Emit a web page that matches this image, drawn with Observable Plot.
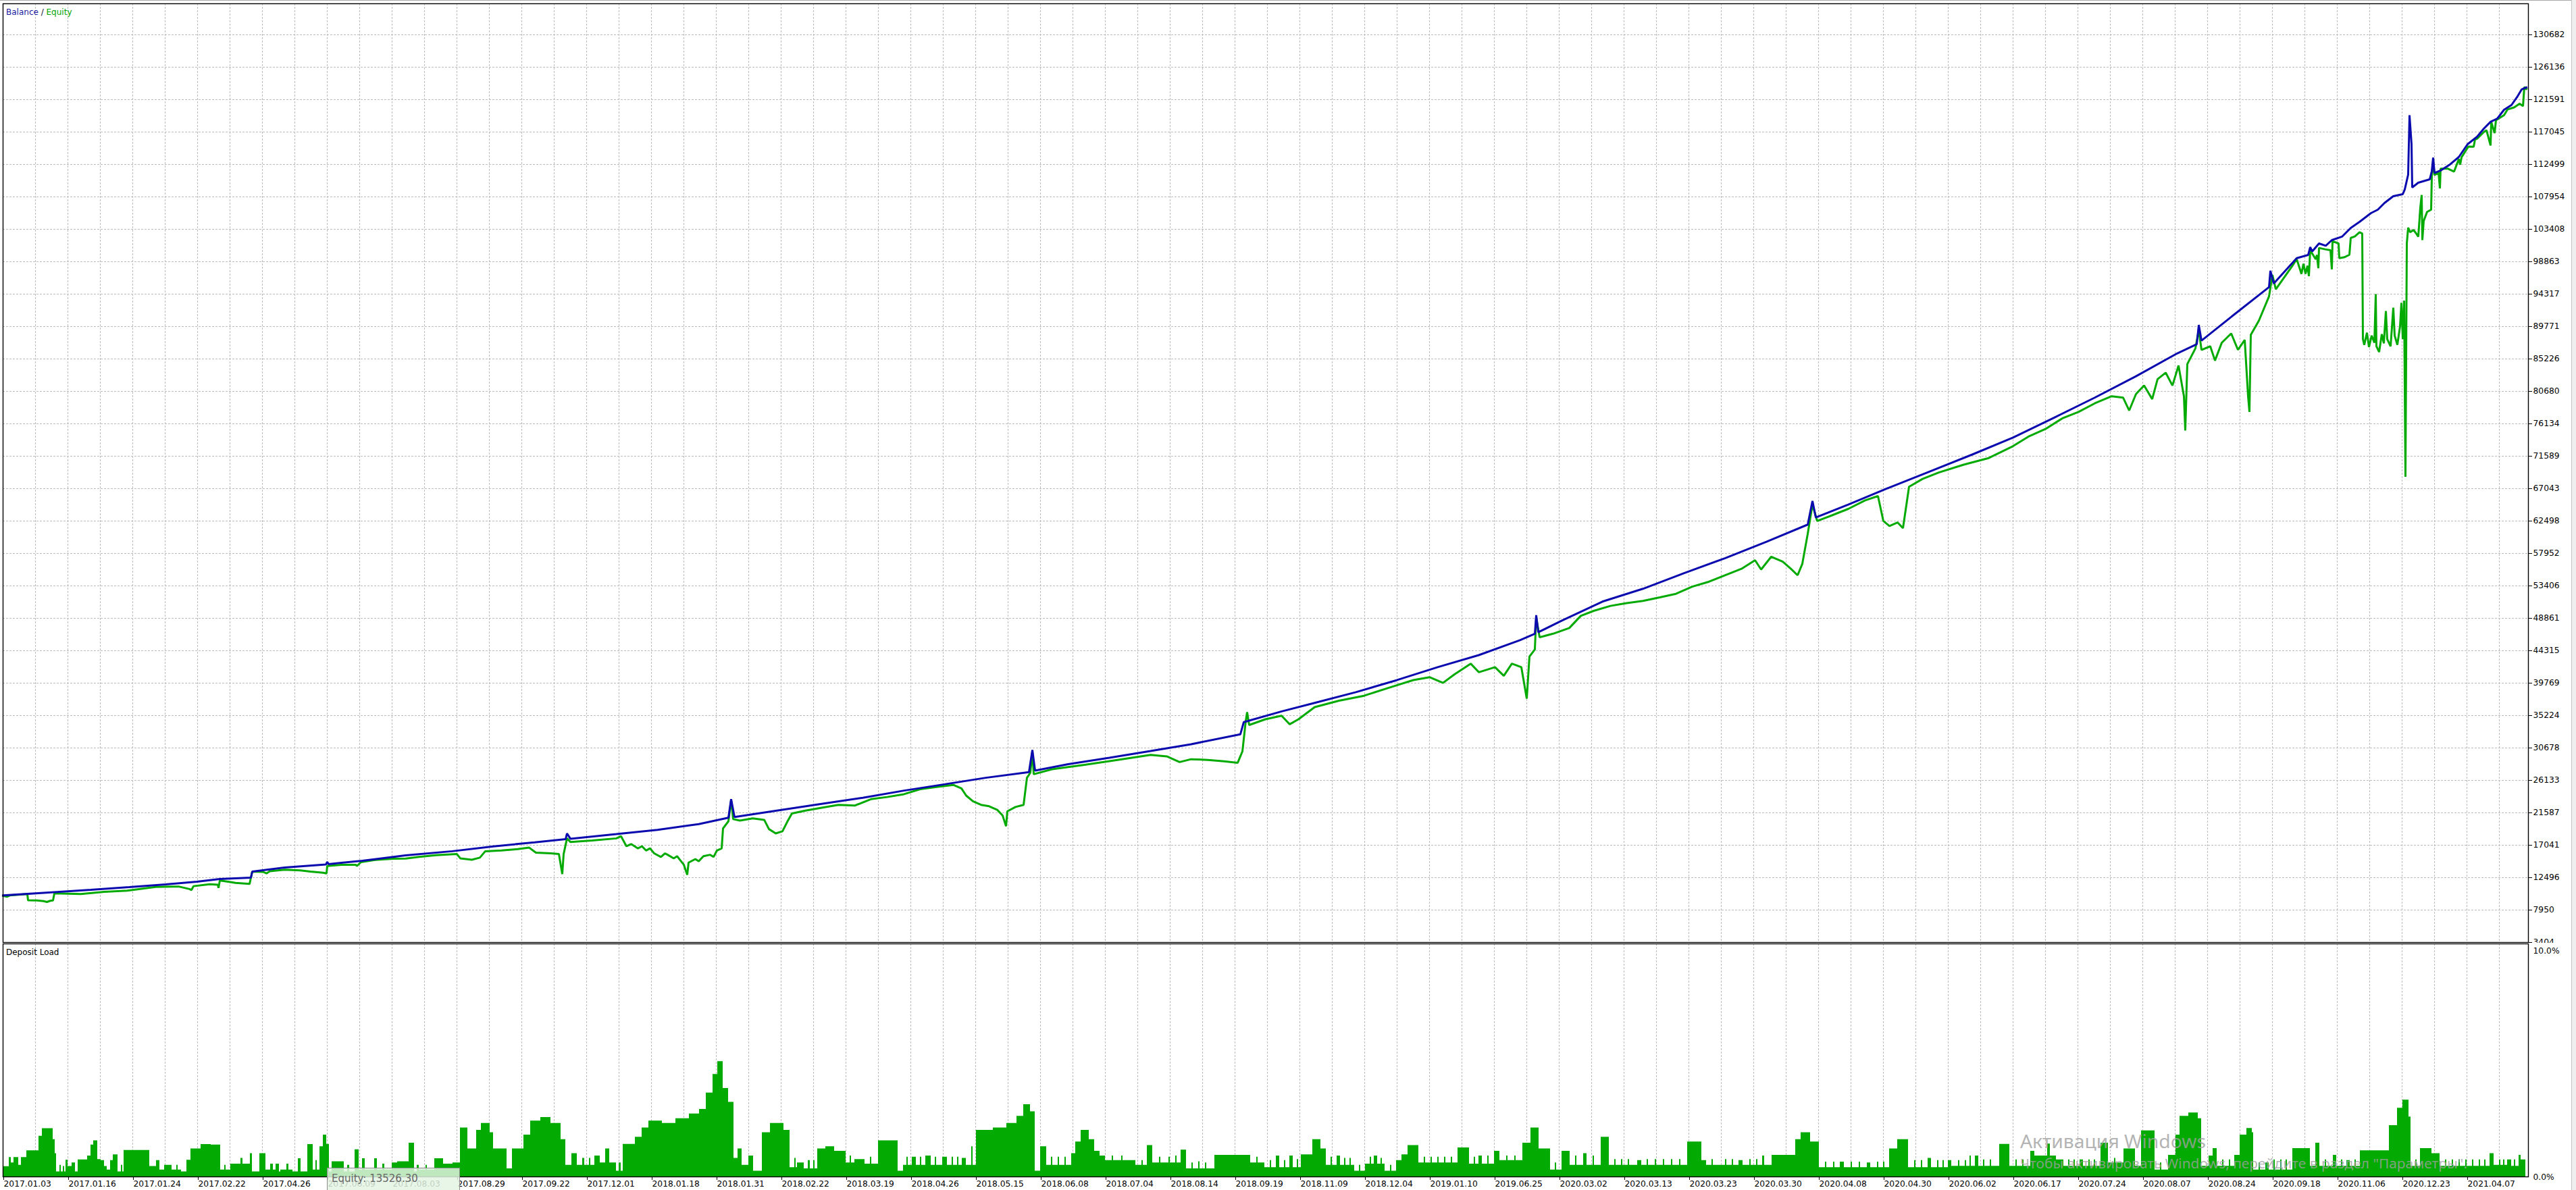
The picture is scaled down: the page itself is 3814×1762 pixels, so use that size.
<!DOCTYPE html>
<html>
<head>
<meta charset="utf-8">
<script src="https://cdn.jsdelivr.net/npm/d3@7"></script>
<script src="https://cdn.jsdelivr.net/npm/@observablehq/plot@0.6"></script>
<style>
  html, body { margin: 0; padding: 0; width: 3814px; height: 1762px; overflow: hidden; background: #fff; }
  #wrap { position: relative; width: 3814px; height: 1762px; }
  #upper, #lower { position: absolute; left: 0; }
  #upper { top: 0; }
  #lower { top: 1396px; }
  #upper svg, #lower svg { display: block; overflow: hidden; max-width: none; }
  #overlay { position: absolute; left: 0; top: 0; pointer-events: none; }
  #tip { position: absolute; left: 484px; top: 1729px; width: 197px; height: 40px;
         background: rgba(228,244,228,0.84); border: 1px solid #8c8c8c; border-bottom: none;
         font-family: 'DejaVu Sans', sans-serif; font-size: 15px; color: #666;
         padding-left: 6px; line-height: 30px; box-sizing: border-box; }
  #topline { position: absolute; left: 0; top: 0; width: 3814px; height: 1px; background: #a8a8a8; }
  #rightstrip { position: absolute; left: 3807px; top: 0; width: 7px; height: 1762px; background: #efefef; border-left: 1px solid #c4c4c4; box-sizing: border-box; }
</style>
</head>
<body>
<div id="wrap">
  <div id="upper"></div>
  <div id="lower"></div>
  <div id="topline"></div>
  <div id="rightstrip"></div>
  <div id="tip">Equity: 13526.30</div>
  <svg id="overlay" width="3814" height="1762"></svg>
</div>
<script>
// ---------------- DATA ----------------
// x axis = sequential bar index (one date label every 96 bars)
const dateLabels = ["2017.01.03","2017.01.16","2017.01.24","2017.02.22","2017.04.26","2017.06.09","2017.08.03","2017.08.29","2017.09.22","2017.12.01","2018.01.18","2018.01.31","2018.02.22","2018.03.19","2018.04.26","2018.05.15","2018.06.08","2018.07.04","2018.08.14","2018.09.19","2018.11.09","2018.12.04","2019.01.10","2019.06.25","2020.03.02","2020.03.13","2020.03.23","2020.03.30","2020.04.08","2020.04.30","2020.06.02","2020.06.17","2020.07.24","2020.08.07","2020.08.24","2020.09.18","2020.11.06","2020.12.23","2021.04.07"];

const yTickValues = [3404, 7950, 12496, 17041, 21587, 26133, 30678, 35224, 39769, 44315, 48861, 53406, 57952, 62498, 67043, 71589, 76134, 80680, 85226, 89771, 94317, 98863, 103408, 107954, 112499, 117045, 121591, 126136, 130682];

const loadTickValues = [0, 10];

// [bar index, balance]
const balancePoints = [[0,10000],[72,10440],[130,10790],[187,11170],[241,11550],[287,11930],[321,12300],[367,12500],[369,13350],[417,13920],[478,14350],[480,14700],[482,14400],[532,14860],[596,15620],
[665,16200],[726,16880],[787,17450],[833,17900],[835,18700],[840,17950],[908,18600],[969,19200],[1030,20000],[1074,20900],[1078,23500],[1083,21000],[1139,21800],[1212,22850],[1273,23700],[1334,24700],[1395,25600],[1455,26500],[1519,27300],[1524,30400],[1528,27500],[1577,28400],[1638,29300],[1699,30250],[1759,31200],[1832,32600],[1837,34300],[1893,35800],[1942,37000],[2003,38500],[2064,40200],[2124,42000],[2185,43700],[2246,45800],[2268,46700],[2270,49300],[2273,46900],[2307,48500],[2368,51200],[2428,53000],[2489,55200],[2550,57300],[2611,59600],[2672,62000],[2679,65300],[2684,63000],[2732,64800],[2793,67200],[2854,69500],[2915,71800],[2976,74200],[3037,77000],[3097,79800],[3158,82800],[3219,86000],[3248,87300],[3251,90000],[3255,87800],[3304,91500],[3355,95300],[3357,97600],[3362,95800],
[3396,99360],[3413,99810],[3416,100900],[3419,100300],[3429,101420],[3439,101100],[3448,101890],[3463,102370],[3476,103600],[3489,104450],[3506,105680],[3516,106150],[3526,107100],[3539,108050],[3553,108330],[3556,109000],[3561,111080],[3563,119410],[3566,115340],[3567,109280],[3576,109940],[3593,110420],[3596,111550],[3598,113450],[3600,111300],[3609,111650],[3623,112500],[3636,113540],[3649,115340],[3663,116380],[3673,117520],[3683,118470],[3693,118940],[3703,120170],[3714,120830],[3723,122060],[3729,123010],[3736,123290]];

// [bar index, equity]
const equityPoints = [[0,9950],[6,9820],[10,10000],[36,10200],[37,9320],[50,9300],[60,9200],[65,9090],[70,9250],[74,9300],[76,10300],[115,10200],[150,10500],[184,10670],[226,11200],[260,11250],[276,10900],[279,10760],[282,11300],[306,11580],[318,11500],[319,11050],[321,12090],[335,11900],[344,11770],[365,11610],[369,13350],[385,13300],[390,13090],[395,13400],[417,13600],[440,13510],[455,13350],[474,13190],[479,13090],[480,14130],[501,14290],[522,14300],[524,14130],[530,14670],[551,14990],[578,15150],[596,15180],
[616,15400],[641,15650],[672,15800],[677,15200],[694,15000],[706,15300],[714,16200],[738,16300],[762,16500],[779,16700],[789,16000],[811,15900],[823,15800],[828,13000],[830,15800],[835,18000],[840,17500],[872,17700],[908,18000],[915,18300],[923,16900],[930,17200],[940,16600],[946,16900],[952,16300],[958,16600],[964,15900],[974,15400],[980,15900],[984,15700],[993,15200],[998,15500],[1003,14900],[1008,14300],[1013,12900],[1015,14600],[1025,15100],[1030,14800],[1037,15500],[1047,15700],[1052,15400],[1057,16300],[1064,16600],[1066,19400],[1074,20400],[1078,23400],[1081,20700],[1091,20500],[1110,20800],[1127,20600],[1134,19300],[1144,18700],[1154,19000],[1161,20300],[1168,21500],[1188,21900],[1212,22300],[1237,22700],[1261,22600],[1285,23500],[1309,23800],[1334,24200],[1358,24900],[1382,25200],[1407,25500],[1419,25000],[1426,24000],[1436,23200],[1448,22700],[1460,22500],[1472,22000],[1480,21200],[1485,19700],[1487,21800],[1499,22400],[1511,22700],[1516,26500],[1521,27200],[1524,30200],[1526,27000],[1553,27700],[1601,28300],[1650,29000],[1699,29700],[1723,29500],[1742,28700],[1759,29100],[1784,29000],[1808,28800],[1828,28600],[1835,30200],[1840,34500],[1842,35700],[1845,33900],[1869,34700],[1893,35200],[1905,34000],[1918,34700],[1942,36400],[1978,37300],[2015,38000],[2051,39100],[2088,40200],[2112,40600],[2132,39800],[2149,41000],[2173,42500],[2185,41300],[2209,42000],[2222,40800],[2234,42500],[2248,42000],[2256,37600],[2260,43500],[2268,44500],[2270,49000],[2275,46200],[2295,46700],[2319,47500],[2336,49200],[2355,49900],[2380,50600],[2404,51000],[2428,51300],[2453,51800],[2477,52300],[2501,53300],[2526,54000],[2550,54900],[2574,55800],[2594,57000],[2603,55700],[2618,57500],[2635,56800],[2647,55800],[2657,54900],[2664,56500],[2672,60700],[2679,64800],[2686,62500],[2708,63300],[2732,64200],[2757,65400],[2776,66000],[2784,62500],[2793,61800],[2805,62300],[2813,61500],[2818,64700],[2822,67300],[2842,68400],[2866,69300],[2903,70400],[2939,71300],[2976,73000],[3000,74400],[3024,75400],[3049,76900],[3073,77800],[3097,79000],[3122,80000],[3139,79800],[3148,78000],[3158,80300],[3170,81500],[3182,79600],[3190,82400],[3202,83300],[3212,81500],[3221,84300],[3229,80000],[3231,75200],[3234,84500],[3246,86700],[3251,89300],[3255,86500],[3268,87000],[3275,85000],[3285,87500],[3299,88800],[3309,86500],[3319,87900],[3324,80000],[3326,77800],[3328,88600],[3340,90600],[3355,94000],[3360,97000],[3365,95000],[3377,96600],[3389,98200],
[3396,99220],[3403,97160],[3406,98580],[3409,97160],[3412,98300],[3414,96840],[3416,100470],[3424,99220],[3426,99800],[3428,97950],[3429,100790],[3438,100600],[3446,100470],[3448,97790],[3449,101740],[3458,101420],[3459,99360],[3467,99500],[3474,99840],[3476,102200],[3482,102400],[3489,103000],[3493,102800],[3494,88000],[3496,87200],[3500,88900],[3503,86900],[3507,88500],[3511,87500],[3513,94320],[3514,87000],[3518,86200],[3522,88700],[3525,87400],[3528,91950],[3530,88000],[3535,87000],[3539,92420],[3541,88500],[3545,87200],[3549,89800],[3551,93090],[3553,88000],[3555,93400],[3557,68700],[3559,101420],[3561,103620],[3564,103000],[3569,103310],[3573,102800],[3576,102370],[3579,106470],[3581,108210],[3582,101890],[3584,104580],[3589,105840],[3595,106150],[3596,110890],[3598,113000],[3600,111000],[3606,111360],[3608,109150],[3609,111900],[3620,111900],[3629,111500],[3636,113260],[3638,112470],[3640,113500],[3650,115000],[3658,114990],[3660,116000],[3663,116100],[3673,117040],[3677,117300],[3683,115150],[3684,118470],[3689,116890],[3691,118700],[3703,119410],[3708,120200],[3718,120500],[3726,121020],[3731,120680],[3733,123360],[3736,123100]];

// [bar index where the level starts, deposit load %]
const depositLoad = [[0,0.44],[9,0.83],[12,0.6],[16,0.83],[23,0.5],[27,0.83],[35,1.12],[53,1.75],[58,2.07],[74,1.6],[77,1.0],[79,0.22],[84,0.5],[86,0.22],[89,0.45],[91,0.22],[93,0.72],[96,0.45],[102,0.6],[107,0.22],[111,0.73],[125,0.9],[130,1.37],[134,1.55],[140,0.75],[145,0.7],[150,0.45],[154,0.3],[159,0.7],[163,0.95],[170,0.22],[175,0.5],[177,0.22],[179,1.14],[217,0.45],[227,0.7],[232,0.3],[239,0.5],[250,0.3],[257,0.5],[259,0.3],[264,0.22],[272,0.72],[278,1.2],[293,1.39],[308,1.37],[322,0.3],[328,0.5],[330,0.3],[337,0.55],[350,0.55],[352,0.8],[355,0.55],[366,1.0],[369,0.22],[380,1.0],[389,0.3],[396,0.55],[400,0.3],[404,0.55],[409,0.22],[411,0.3],[420,0.55],[423,0.3],[429,0.22],[437,0.78],[441,0.22],[451,1.39],[459,0.3],[463,0.7],[465,0.3],[469,1.3],[474,1.8],[479,1.4],[483,0.22],[487,0.65],[505,0.22],[510,0.5],[513,0.22],[521,1.17],[527,0.3],[532,0.78],[536,0.3],[550,0.78],[554,0.3],[562,0.55],[565,0.3],[576,0.6],[584,0.65],[601,1.45],[609,0.22],[613,0.5],[616,0.3],[626,0.5],[628,0.3],[639,0.78],[652,0.55],[666,0.6],[677,2.1],[688,1.2],
[701,2.0],[708,2.3],[721,1.9],[726,1.2],[746,0.35],[754,1.2],[771,1.8],[781,2.4],[796,2.55],[811,2.3],[826,1.6],[833,0.5],[842,1.0],[850,0.5],[858,0.8],[861,0.5],[868,0.8],[870,0.5],[876,0.9],[884,0.6],[892,1.2],[898,0.6],[908,0.25],[912,0.6],[915,0.25],[918,1.4],[936,1.7],[946,2.1],[956,2.4],[976,2.3],[996,2.5],[1016,2.7],[1031,2.9],[1041,3.6],[1051,4.4],[1058,4.95],[1066,3.8],[1074,3.2],[1082,0.8],[1088,1.2],[1094,0.5],[1104,0.9],[1111,0.25],[1124,1.9],[1136,2.3],[1156,2.0],[1165,0.4],[1172,0.8],[1174,0.4],[1176,0.6],[1186,0.35],[1192,0.7],[1195,0.35],[1200,0.7],[1202,0.35],[1206,1.2],[1218,1.3],[1231,1.1],[1248,0.6],[1254,0.9],[1256,0.6],[1261,0.75],[1276,0.55],[1284,0.85],[1286,0.55],
[1296,1.55],[1325,0.25],[1333,0.5],[1338,0.85],[1340,0.5],[1346,0.85],[1352,0.5],[1358,0.85],[1360,0.5],[1366,0.9],[1374,0.5],[1380,0.85],[1382,0.5],[1391,0.85],[1398,0.5],[1405,0.85],[1407,0.5],[1413,0.85],[1415,0.5],[1420,0.8],[1426,0.5],[1434,1.3],[1436,0.5],[1441,2.0],[1466,2.1],[1486,2.3],[1501,2.6],[1511,3.1],[1521,2.8],[1528,0.25],[1536,1.3],[1545,0.5],[1552,0.85],[1554,0.5],[1562,0.85],[1564,0.5],[1572,0.85],[1574,0.5],[1582,1.0],[1588,1.5],[1596,2.0],[1608,1.6],[1616,1.1],[1624,0.9],[1632,0.7],[1642,0.9],[1644,0.7],[1656,0.9],[1658,0.7],[1677,0.5],[1686,0.7],[1688,0.5],[1694,1.35],[1702,0.6],[1712,0.85],[1714,0.6],[1726,0.85],[1728,0.6],[1736,0.9],[1738,0.6],[1744,1.15],[1752,0.35],[1760,0.6],[1762,0.35],[1770,0.65],[1772,0.35],[1780,0.6],[1782,0.35],[1794,0.93],[1847,0.6],[1856,0.85],[1858,0.6],[1868,0.4],[1876,0.7],[1878,0.4],[1885,0.9],[1890,0.4],[1897,0.7],[1899,0.4],[1905,0.9],[1910,0.4],[1916,0.75],[1918,0.4],[1922,0.95],[1939,1.6],[1951,1.2],[1959,0.5],[1966,0.85],[1968,0.5],[1975,0.9],[1980,0.5],[1986,0.8],[1988,0.5],[1994,0.8],[1996,0.5],[2001,0.25],[2008,0.5],[2010,0.25],[2017,0.55],[2024,0.85],[2026,0.55],[2030,0.9],[2035,0.55],[2040,0.8],[2042,0.55],[2046,0.25],[2054,0.5],[2056,0.25],[2063,0.7],[2071,0.95],[2080,1.35],[2096,0.6],[2104,0.85],[2106,0.6],[2114,0.85],[2116,0.6],[2124,0.85],[2126,0.6],[2134,0.85],[2136,0.6],[2144,0.85],[2146,0.6],[2154,1.25],[2171,0.55],[2178,0.85],[2180,0.55],[2185,0.9],[2190,0.55],[2198,0.9],[2200,0.55],[2208,1.1],[2216,0.7],[2226,0.9],[2228,0.7],[2238,0.9],[2240,0.7],[2250,1.45],[2262,2.1],[2274,1.2],[2291,0.3],[2298,0.6],[2300,0.3],[2308,1.1],[2320,0.5],[2328,0.9],[2330,0.5],[2340,1.0],[2345,0.5],[2354,0.9],[2356,0.5],[2366,1.7],[2378,0.5],[2386,0.75],[2388,0.5],[2396,0.75],[2398,0.5],[2406,0.75],[2408,0.5],[2420,0.7],[2426,0.5],[2434,0.75],[2436,0.5],[2446,0.75],[2448,0.5],[2458,0.75],[2460,0.5],[2470,0.75],[2472,0.5],[2482,0.75],[2484,0.5],[2494,1.5],[2515,0.7],[2522,0.5],[2530,0.75],[2532,0.5],[2540,0.5],[2550,0.75],[2552,0.5],[2560,0.75],[2562,0.5],[2570,0.7],[2576,0.5],[2586,0.75],[2588,0.5],[2596,0.75],[2598,0.5],
[2605,0.9],[2608,0.5],[2619,0.93],[2654,1.6],[2662,1.9],[2676,1.5],[2689,0.4],[2698,0.64],[2700,0.4],[2710,0.64],[2712,0.4],[2720,0.64],[2726,0.4],[2736,0.64],[2738,0.4],[2748,0.64],[2750,0.4],[2760,0.6],[2765,0.4],[2775,0.64],[2777,0.4],[2784,0.64],[2786,0.4],[2793,1.2],[2805,1.6],[2821,0.4],[2830,0.7],[2832,0.4],[2840,0.7],[2842,0.4],[2850,0.8],[2855,0.4],[2864,0.7],[2866,0.4],[2872,0.7],[2874,0.4],[2880,0.7],[2885,0.46],[2895,0.7],[2897,0.46],[2905,0.7],[2907,0.46],[2912,0.9],[2914,0.46],[2920,0.9],[2925,0.46],[2932,0.73],[2934,0.46],[2942,0.73],[2944,0.46],[2956,1.4],[2971,0.46],[2980,0.73],[2982,0.46],[2990,0.73],[2992,0.46],[3002,1.1],[3008,0.9],[3027,1.41],[3031,0.9],[3040,0.73],[3051,0.46],[3058,0.73],[3060,0.46],[3066,0.73],[3068,0.46],[3075,0.73],[3080,0.46],[3088,0.73],[3090,0.46],[3096,0.73],[3098,0.46],[3106,1.45],[3117,0.6],[3126,0.8],[3128,0.6],[3140,1.2],[3157,0.46],[3166,1.98],[3186,0.3],[3194,0.6],[3196,0.3],[3206,0.93],[3217,1.8],[3223,2.6],[3236,2.75],[3250,2.5],[3255,0.46],[3266,0.9],[3272,1.22],[3278,0.46],[3286,0.73],[3288,0.46],[3296,0.73],[3298,0.46],[3304,0.93],[3312,1.8],[3322,2.08],[3330,1.9],[3332,0.3],[3340,0.6],[3342,0.3],[3350,0.6],[3355,0.3],[3362,0.73],[3364,0.3],[3372,0.73],[3374,0.3],[3380,0.73],[3382,0.3],[3390,1.22],[3416,0.46],[3424,1.45],[3430,0.46],[3438,0.73],[3440,0.46],[3450,0.93],[3455,0.46],[3462,0.73],[3464,0.46],[3470,0.7],[3475,0.46],[3482,0.73],[3484,0.46],[3490,1.12],[3533,2.2],[3545,2.95],[3553,3.3],[3562,2.57],[3565,0.46],[3572,0.73],[3574,0.46],[3579,1.22],[3596,1.0],[3608,0.46],[3616,0.73],[3618,0.46],[3626,0.73],[3628,0.46],[3636,0.73],[3638,0.46],[3646,0.73],[3648,0.46],[3656,0.73],[3658,0.46],[3666,0.73],[3668,0.46],[3674,0.73],[3676,0.46],[3682,1.0],[3688,0.5],[3696,0.73],[3698,0.5],[3702,0.73],[3704,0.5],[3708,0.73],[3714,0.46],[3718,0.73],[3720,0.46],[3725,0.93],[3728,0.73],[3735,0.73]];

// ---------------- CHART ----------------
const X_MAX = 3739;           // bars on the x axis
const LABEL_STEP = 96;        // bars between date labels
const GRID_STEP = 48;         // bars between grid lines
const labelPos = dateLabels.map((_, k) => k * LABEL_STEP);
const labelMap = new Map(labelPos.map((p, k) => [p, dateLabels[k]]));
const xGrid = d3.range(GRID_STEP, X_MAX, GRID_STEP);

const FONT = "'DejaVu Sans', sans-serif";
const gridStyle = {stroke: "#bdbdbd", strokeOpacity: 1, strokeWidth: 1, strokeDasharray: "3,2"};
const BLUE = "#0a0aae";
const GREEN = "#02aa02";

const balanceRows = balancePoints.map(([x, v]) => ({x, v}));
const equityRows = equityPoints.map(([x, v]) => ({x, v}));
const loadRows = depositLoad.map(([x, p]) => ({x, p}));

const upper = Plot.plot({
  width: 3814, height: 1396,
  marginLeft: 4, marginRight: 71, marginTop: 5, marginBottom: 1,
  x: {domain: [0, X_MAX], axis: null},
  y: {domain: [3404, 135036]},
  style: {fontFamily: FONT, fontSize: "12.3px", color: "#000", background: "transparent", overflow: "hidden"},
  marks: [
    Plot.gridX(xGrid, gridStyle),
    Plot.gridY(yTickValues, gridStyle),
    Plot.line(equityRows, {x: "x", y: "v", stroke: GREEN, strokeWidth: 3, strokeLinejoin: "miter", strokeLinecap: "square"}),
    Plot.line(balanceRows, {x: "x", y: "v", stroke: BLUE, strokeWidth: 3, strokeLinejoin: "miter", strokeLinecap: "square"}),
    Plot.frame({stroke: "#000", strokeWidth: 1.4}),
    Plot.axisY(yTickValues, {anchor: "right", tickSize: 5, tickPadding: 2, tickFormat: d => String(d), label: null, fill: "#000"})
  ]
});
document.getElementById("upper").appendChild(upper);

const lower = Plot.plot({
  width: 3814, height: 366,
  marginLeft: 4, marginRight: 71, marginTop: 1, marginBottom: 20,
  x: {domain: [0, X_MAX]},
  y: {domain: [0, 10]},
  style: {fontFamily: FONT, fontSize: "12.3px", color: "#000", background: "transparent", overflow: "hidden"},
  marks: [
    Plot.gridX(xGrid, gridStyle),
    Plot.areaY(loadRows, {x: "x", y: "p", curve: "step-after", fill: GREEN}),
    Plot.frame({stroke: "#000", strokeWidth: 1.4}),
    Plot.axisX(labelPos, {anchor: "bottom", tickSize: 5, tickPadding: 1, tickFormat: d => labelMap.get(d), textAnchor: "start", dx: 1, label: null}),
    Plot.axisY([loadTickValues[1]], {anchor: "right", tickSize: 0, tickPadding: 7, tickFormat: d => d.toFixed(1) + "%", dy: 11, label: null}),
    Plot.axisY([loadTickValues[0]], {anchor: "right", tickSize: 0, tickPadding: 7, tickFormat: d => d.toFixed(1) + "%", dy: 1, label: null})
  ]
});
document.getElementById("lower").appendChild(lower);

// ---------------- TEXT OVERLAY ----------------
const ov = d3.select("#overlay");
const legend = ov.append("text").attr("x", 9).attr("y", 22)
  .attr("font-family", FONT).attr("font-size", 12);
legend.append("tspan").attr("fill", "#1a1aa0").text("Balance");
legend.append("tspan").attr("fill", "#101030").text(" / ");
legend.append("tspan").attr("fill", "#00a400").text("Equity");

ov.append("text").attr("x", 9).attr("y", 1414)
  .attr("font-family", FONT).attr("font-size", 12).attr("fill", "#000")
  .text("Deposit Load");

ov.append("text").attr("x", 2991).attr("y", 1700)
  .attr("font-family", "'Noto Sans', 'Open Sans', sans-serif").attr("font-size", 27)
  .attr("fill", "rgba(160,160,160,0.8)")
  .attr("textLength", 275).attr("lengthAdjust", "spacingAndGlyphs")
  .text("Активация Windows");
ov.append("text").attr("x", 2991).attr("y", 1730)
  .attr("font-family", "'Noto Sans', 'Open Sans', sans-serif").attr("font-size", 19)
  .attr("fill", "rgba(160,160,160,0.8)")
  .attr("textLength", 662).attr("lengthAdjust", "spacingAndGlyphs")
  .text("Чтобы активировать Windows, перейдите в раздел \"Параметры\".");
</script>
</body>
</html>
